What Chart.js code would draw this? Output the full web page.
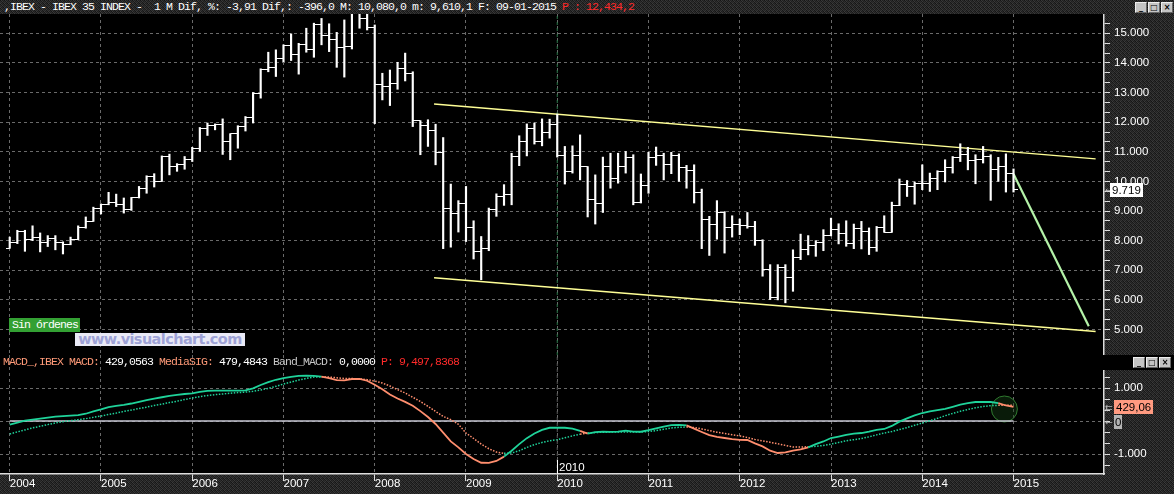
<!DOCTYPE html>
<html>
<head>
<meta charset="utf-8">
<script src="https://cdn.jsdelivr.net/npm/chart.js@4.4.1/dist/chart.umd.min.js"></script>
<style>
  html, body { margin: 0; padding: 0; background: #000; }
  #wrap { position: relative; width: 1174px; height: 494px; overflow: hidden; background: #000; }
  canvas { position: absolute; left: 0; }
  #priceChart { top: 14px; }
  #macdChart { top: 355px; }
  .txt { position: absolute; font-family: "Liberation Mono", monospace; font-size: 11.5px;
         letter-spacing: -0.9px; white-space: pre; color: #fff; line-height: 14px; }
  #titlebar { left: 0; top: 0; width: 1170px; height: 14px; padding-left: 4px; }
  #macdTitle { left: 3px; top: 355px; }
  .red { color: #ff2a2a; }
  .sal { color: #ff9a78; }
  .gry { color: #c8c8c8; }
  #sinOrdenes { left: 9px; top: 318px; width: 68px; height: 14px; padding-left: 3px; background: #33a033; }
  #watermark { position: absolute; left: 75px; top: 333px; width: 170px; height: 13px; background: #eaeaf7;
               font-family: "DejaVu Sans", sans-serif; font-weight: bold; font-size: 14.5px; line-height: 13px;
               color: #9ea2d6; text-align: center; letter-spacing: -0.6px; overflow: hidden; }
  .box { position: absolute; font-family: "Liberation Sans", sans-serif; font-size: 11.5px; line-height: 14px;
         color: #000; padding: 0 2px; }
  .arrow { position: absolute; font-family: "DejaVu Sans", sans-serif; font-size: 9px; color: #bbb; line-height: 12px; }
  .win { position: absolute; display: flex; gap: 1px; }
  .win span { display: block; width: 10px; height: 9px; background: #c4c4c4; border: 1px solid #eee;
              border-right-color: #666; border-bottom-color: #666; font: bold 8px "DejaVu Sans", sans-serif;
              line-height: 9px; text-align: center; color: #000; }
  #cursorLabel { position: absolute; left: 557px; top: 460px; height: 14px; border-left: 1px solid #fff;
                 padding-left: 1px; font-family: "Liberation Sans", sans-serif; font-size: 11.5px; line-height: 14px; color: #fff; }
</style>
</head>
<body>
<div id="wrap">
  <div id="titlebar" class="txt">,IBEX - IBEX 35 INDEX -  1 M Dif, %: -3,91 Dif,: -396,0 M: 10,080,0 m: 9,610,1 F: 09-01-2015 <span class="red">P : 12,434,2</span></div>
  <canvas id="priceChart" width="1174" height="341"></canvas>
  <canvas id="macdChart" width="1174" height="139"></canvas>
  <div id="macdTitle" class="txt"><span class="sal">MACD_,IBEX MACD:</span> 429,0563 <span class="sal">MediaSIG:</span> 479,4843 <span class="gry">Band_MACD:</span> 0,0000 <span class="red">P: 9,497,8368</span></div>
  <div id="sinOrdenes" class="txt">Sin órdenes</div>
  <div id="watermark">www.visualchart.com</div>
  <div class="arrow" style="left:1105px;top:184px">&#8592;</div>
  <div class="box" style="left:1110px;top:183px;background:#fff;">9.719</div>
  <div class="arrow" style="left:1105px;top:402px">&#8647;</div>
  <div class="box" style="left:1114px;top:400px;background:#ff9a80;">429,06</div>
  <div class="arrow" style="left:1105px;top:416px">&#8592;</div>
  <div class="box" style="left:1114px;top:415px;background:#b4b4b4;padding:0 1px;">0</div>
  <div class="win" style="left:1135px;top:2px"><span>_</span><span>&#9633;</span><span>&#215;</span></div>
  <div class="win" style="left:1133px;top:357px"><span>_</span><span>&#9633;</span><span>&#215;</span></div>
  <div id="cursorLabel">2010</div>
</div>
<script>
// monthly bars, Jan 2004 (index 0) .. Jan 2015 (index 132)
const yearLabels = ["2004", "2005", "2006", "2007", "2008", "2009", "2010", "2011", "2012", "2013", "2014", "2015"];

const openPx = [
  7740, 7940, 8300, 8030, 8090, 7940, 8060, 7950, 7860, 8030, 8450, 8650,
  9100, 9230, 9300, 9230, 9040, 9440, 9770, 10170, 10000, 10840, 10500, 10560,
  10750, 11120, 11800, 11880, 11910, 11350, 11600, 11850, 12170, 12950, 13760, 13840,
  14160, 14570, 14270, 14630, 14440, 15310, 14910, 14800, 14530, 14550, 15900, 15500,
  15180, 13260, 13200, 13310, 13820, 13650, 12050, 11900, 11710, 10990, 9100, 8900,
  9270, 8460, 7640, 7750, 9065, 9490, 9550, 10840, 11350, 11770, 11350, 11660,
  11930, 10860, 10340, 10860, 10500, 9380, 9270, 10500, 10090, 10510, 10810, 9290,
  9860, 10810, 10870, 10580, 10880, 10480, 10360, 9630, 8720, 8550, 8950, 8450,
  8560, 8510, 8470, 8010, 7010, 6090, 7100, 6740, 7420, 7710, 7840, 7930,
  8170, 8360, 8230, 7920, 8420, 8320, 7760, 8430, 8290, 9190, 9910, 9840,
  9920, 9920, 10110, 10340, 10460, 10800, 10920, 10710, 10730, 10830, 10400, 10490,
  10280
];
const highPx = [
  8120, 8350, 8350, 8500, 8260, 8170, 8170, 7960, 8120, 8500, 8800, 9130,
  9240, 9630, 9570, 9440, 9460, 9830, 10190, 10260, 10860, 10920, 10600, 10840,
  11150, 11820, 11970, 11940, 12110, 11610, 11880, 12190, 13000, 13800, 14360, 14440,
  14610, 14980, 14660, 15170, 15340, 15500, 15320, 15030, 15450, 16000, 16040, 15800,
  15280, 13650, 13760, 14020, 14330, 13700, 12050, 12080, 11930, 11480, 9910, 9350,
  9830, 8670, 8140, 9100, 9580, 9890, 10950, 11540, 11940, 11970, 12110, 12100,
  12270, 11180, 11200, 11570, 10500, 10220, 10820, 10950, 10950, 11010, 10900, 10250,
  10980, 11160, 10950, 10980, 10930, 10540, 10560, 9740, 8820, 9350, 8980, 8840,
  8730, 8950, 8650, 8030, 7190, 7190, 7190, 7690, 8220, 8170, 8000, 8370,
  8760, 8570, 8670, 8560, 8650, 8430, 8480, 8840, 9300, 10080, 10030, 9980,
  10560, 10280, 10360, 10730, 10840, 11270, 11150, 10900, 11180, 10900, 10810, 10930,
  10420
];
const lowPx = [
  7740, 7900, 7640, 8000, 7620, 7800, 7690, 7550, 7860, 8030, 8420, 8650,
  8900, 9210, 9150, 8930, 9020, 9440, 9600, 9810, 10000, 10220, 10340, 10410,
  10670, 11010, 11550, 11740, 10910, 10730, 11120, 11700, 11970, 12810, 13700, 13540,
  14040, 14080, 13620, 14360, 14190, 14610, 14380, 13850, 13520, 14470, 15170, 15110,
  11950, 12750, 12560, 13110, 13390, 11850, 10900, 11180, 10560, 7730, 7780, 8290,
  7970, 7380, 6680, 7660, 8820, 9190, 9210, 10530, 10860, 11260, 11200, 11460,
  10820, 9910, 10280, 10050, 8800, 8560, 8950, 9770, 9940, 10280, 9210, 9270,
  9600, 10540, 10050, 10260, 10000, 9770, 9270, 7730, 7500, 8050, 7580, 8120,
  8200, 8420, 7840, 6800, 6010, 6000, 5900, 6290, 7360, 7520, 7470, 7660,
  8160, 7890, 7810, 7730, 7720, 7530, 7640, 8280, 8280, 9180, 9490, 9230,
  9720, 9660, 9720, 9980, 10280, 10670, 10390, 9920, 10620, 9360, 10000, 9640,
  9640
];
const closePx = [
  7940, 8300, 8030, 8090, 7940, 8060, 7950, 7860, 8030, 8450, 8650, 9100,
  9230, 9300, 9230, 9040, 9440, 9770, 10170, 10000, 10840, 10500, 10560, 10750,
  11120, 11800, 11880, 11910, 11350, 11600, 11850, 12170, 12950, 13760, 13840, 14160,
  14570, 14270, 14630, 14440, 15310, 14910, 14800, 14530, 14550, 15900, 15500, 15180,
  13260, 13200, 13310, 13820, 13650, 12050, 11900, 11710, 10990, 9100, 8900, 9270,
  8460, 7640, 7750, 9065, 9490, 9550, 10840, 11350, 11770, 11350, 11660, 11930,
  10860, 10340, 10860, 10500, 9380, 9270, 10500, 10090, 10510, 10810, 9290, 9860,
  10810, 10870, 10580, 10880, 10480, 10360, 9630, 8720, 8550, 8950, 8450, 8560,
  8510, 8470, 8010, 7010, 6090, 7100, 6740, 7420, 7710, 7840, 7930, 8170,
  8360, 8230, 7920, 8420, 8320, 7760, 8430, 8290, 9190, 9910, 9840, 9920,
  9920, 10110, 10340, 10460, 10800, 10920, 10710, 10730, 10830, 10400, 10490, 10280,
  9720
];

const macdVals = [
  -110, -50, 10, 40, 70, 100, 130, 145, 160, 175, 220, 290,
  350, 420, 460, 490, 530, 580, 630, 680, 720, 760, 790, 818,
  840, 880, 915, 920, 920, 918, 918, 925, 990, 1090, 1180, 1250,
  1300, 1340, 1370, 1374, 1370, 1345, 1300, 1240, 1232, 1273, 1273, 1220,
  1100, 960, 800, 680, 580, 460, 300, 120, -90, -350, -616, -800,
  -1000, -1150, -1265, -1270, -1210, -1080, -900, -700, -520, -380, -270, -205,
  -200, -205, -230, -300, -380, -340, -320, -330, -320, -293, -320, -325,
  -280, -220, -170, -125, -120, -135, -230, -333, -430, -480, -515, -550,
  -570, -576, -680, -768, -900, -970, -950, -900, -860, -798, -700, -620,
  -515, -470, -420, -380, -364, -320, -270, -242, -150, -20, 80, 170,
  242, 290, 330, 370, 430, 495, 540, 576, 580, 576, 540, 470,
  429
];
const signalVals = [
  -394, -330, -270, -210, -160, -110, -60, -20, 10, 40, 70, 110,
  150, 200, 240, 290, 330, 380, 420, 470, 510, 560, 600, 650,
  697, 740, 770, 800, 820, 840, 860, 875, 900, 940, 990, 1050,
  1121, 1180, 1240, 1290, 1330, 1340, 1330, 1310, 1290, 1285, 1280, 1252,
  1210, 1151, 1060, 950, 850, 720, 590, 444, 290, 140, 40, -100,
  -364, -530, -700, -840, -940, -980, -970, -900, -800, -717, -650, -600,
  -566, -510, -450, -400, -364, -350, -340, -335, -333, -333, -333, -333,
  -320, -290, -250, -210, -192, -182, -200, -240, -290, -340, -380, -414,
  -450, -500, -560, -600, -646, -690, -740, -788, -790, -780, -768, -740,
  -700, -650, -600, -566, -530, -480, -420, -364, -320, -260, -200, -130,
  -61, 10, 80, 160, 230, 293, 350, 400, 440, 465, 475, 480,
  479
];
const bandMacd = 0;

// drawn lines on the price panel (month index, price)
const channelUpper = [[55.8, 12610], [142.8, 10760]];
const channelLower = [[55.8, 6750], [142.8, 4935]];
const projection = [[132, 10250], [141.9, 5110]];
const cursorMonth = 72;
const macdMarker = [130.8, 364];

const priceTicks = [5000, 6000, 7000, 8000, 9000, 10000, 11000, 12000, 13000, 14000, 15000];
const priceTickLabels = ["5.000", "6.000", "7.000", "8.000", "9.000", "10.000", "11.000", "12.000", "13.000", "14.000", "15.000"];
const macdTicks = [-1000, 0, 1000];
const macdTickLabels = ["-1.000", "", "1.000"];

// visible ranges
const xMin = -1.28, xMax = 143.9;
const priceMin = 4140, priceMax = 15650;
const macdMin = -1606, macdMax = 2000;

const GRID = "#6a6a6a";
const GREEN = "#1fd39a";
const SALMON = "#ff8e6e";
const tickFont = { family: "Liberation Sans", size: 11.5 };

// dithered dark background like the original terminal
function makeNoise() {
  const c = document.createElement("canvas");
  c.width = 4; c.height = 4;
  const g = c.getContext("2d");
  const shades = [
    "#161616", "#383838", "#202020", "#2e2e2e",
    "#2c2c2c", "#1a1a1a", "#3a3a3a", "#1e1e1e",
    "#242424", "#363636", "#181818", "#323232",
    "#3c3c3c", "#1c1c1c", "#2a2a2a", "#141414"
  ];
  shades.forEach((s, i) => { g.fillStyle = s; g.fillRect(i % 4, Math.floor(i / 4), 1, 1); });
  return c;
}
const noise = makeNoise();
document.getElementById("titlebar").style.background = "url(" + noise.toDataURL() + ")";

function tickMark(side) {
  const c = document.createElement("canvas");
  c.width = 8; c.height = 1;
  const g = c.getContext("2d");
  g.fillStyle = "#fff";
  g.fillRect(side === "left" ? 0 : 4, 0, 4, 1);
  return c;
}
const openTick = tickMark("left");
const closeTick = tickMark("right");

const panelBg = {
  id: "panelBg",
  beforeDraw(chart) {
    const { ctx, chartArea: a, width, height } = chart;
    ctx.save();
    ctx.fillStyle = ctx.createPattern(noise, "repeat");
    ctx.fillRect(0, 0, width, height);
    ctx.fillStyle = "#000";
    ctx.fillRect(a.left, a.top, a.right - a.left, a.bottom - a.top);
    ctx.restore();
  },
  afterDraw(chart, args, opts) {
    // black header strip above the indicator's price axis
    if (!opts.headerRow) return;
    const { ctx, chartArea: a, width } = chart;
    ctx.save();
    ctx.fillStyle = "#000";
    ctx.fillRect(a.right - 1, 0, width - a.right + 1, opts.headerRow);
    ctx.restore();
  }
};

function thirds(majors) {
  const out = [];
  majors.forEach((v, i) => {
    out.push(v);
    if (i < majors.length - 1) {
      const step = (majors[i + 1] - v) / 3;
      out.push(v + step, v + 2 * step);
    }
  });
  out.unshift(majors[0] - (majors[1] - majors[0]) / 3);
  out.push(majors[majors.length - 1] + (majors[1] - majors[0]) / 3);
  return out;
}

// axes must fill the canvas exactly, no label overflow padding
function noPad(s) {
  s.paddingLeft = 0; s.paddingRight = 0; s.paddingTop = 0; s.paddingBottom = 0;
}

const months = closePx.map((_, i) => i);
const yearTicks = yearLabels.map((_, i) => i * 12);
const toPts = arr => arr.map(p => ({ x: p[0], y: p[1] }));

function xAxis(showLabels) {
  return {
    type: "linear",
    min: xMin,
    max: xMax,
    offset: false,
    afterBuildTicks: s => { s.ticks = yearTicks.map(v => ({ value: v })); },
    ticks: {
      display: showLabels,
      color: "#fff",
      font: tickFont,
      align: "start",
      padding: -4,
      maxRotation: 0,
      autoSkip: false,
      callback: (v) => yearLabels[yearTicks.indexOf(v)]
    },
    grid: { color: GRID, offset: false, drawTicks: showLabels, tickLength: 7, tickColor: "#ddd", tickBorderDash: [] },
    border: { display: showLabels, color: "#ddd", width: 1.5, dash: [3, 3] },
    afterFit: s => { s.height = showLabels ? 20 : 0; noPad(s); }
  };
}

function yAxis(min, max, majors, labels) {
  return {
    position: "right",
    min: min,
    max: max,
    afterBuildTicks: s => { s.ticks = thirds(majors).filter(v => v > min && v < max).map(v => ({ value: v })); },
    ticks: {
      color: "#fff",
      font: tickFont,
      padding: 4,
      autoSkip: false,
      callback: (v) => { const i = majors.indexOf(v); return i >= 0 ? labels[i] : ""; }
    },
    grid: {
      color: c => majors.includes(c.tick.value) ? GRID : "rgba(0,0,0,0)",
      tickColor: "#ddd",
      tickLength: 6,
      tickBorderDash: []
    },
    border: { color: "#ddd", width: 1.5, dash: [3, 3] },
    afterFit: s => { s.width = 70; noPad(s); }
  };
}

new Chart(document.getElementById("priceChart"), {
  type: "bar",
  data: {
    datasets: [
      {
        type: "bar",
        data: months.map(i => ({ x: i, y: [lowPx[i], highPx[i]] })),
        backgroundColor: "#fff",
        barThickness: 1.5,
        grouped: false
      },
      {
        type: "scatter",
        data: months.map(i => ({ x: i, y: openPx[i] })),
        pointStyle: openTick,
        pointRadius: 4
      },
      {
        type: "scatter",
        data: months.map(i => ({ x: i, y: closePx[i] })),
        pointStyle: closeTick,
        pointRadius: 4
      },
      {
        type: "line",
        data: toPts(channelUpper),
        borderColor: "#ffff96",
        borderWidth: 1.5,
        pointRadius: 0
      },
      {
        type: "line",
        data: toPts(channelLower),
        borderColor: "#ffff96",
        borderWidth: 1.5,
        pointRadius: 0
      },
      {
        type: "line",
        data: toPts(projection),
        borderColor: "#b4f2a8",
        borderWidth: 2.2,
        pointRadius: 0
      },
      {
        type: "line",
        data: [{ x: cursorMonth, y: priceMin }, { x: cursorMonth, y: priceMax }],
        borderColor: "#2e7a4c",
        borderWidth: 1,
        borderDash: [3, 3],
        pointRadius: 0
      }
    ]
  },
  options: {
    responsive: false,
    animation: false,
    events: [],
    layout: { padding: 0, autoPadding: false },
    plugins: { legend: { display: false }, tooltip: { enabled: false }, panelBg: {} },
    scales: {
      x: xAxis(false),
      y: yAxis(priceMin, priceMax, priceTicks, priceTickLabels)
    }
  },
  plugins: [panelBg]
});

const macdColor = c => macdVals[c.p1DataIndex] >= signalVals[c.p1DataIndex] ? GREEN : SALMON;

new Chart(document.getElementById("macdChart"), {
  type: "line",
  data: {
    datasets: [
      {
        data: months.map(i => ({ x: i, y: macdVals[i] })),
        borderWidth: 1.8,
        pointRadius: 0,
        segment: { borderColor: macdColor }
      },
      {
        data: months.map(i => ({ x: i, y: signalVals[i] })),
        borderWidth: 1.5,
        borderDash: [1.5, 1.5],
        pointRadius: 0,
        segment: { borderColor: macdColor }
      },
      {
        data: [{ x: 0, y: bandMacd }, { x: months.length - 1, y: bandMacd }],
        borderColor: "#c8c8d4",
        borderWidth: 1.5,
        pointRadius: 0
      },
      {
        data: [{ x: cursorMonth, y: macdMin }, { x: cursorMonth, y: macdMax }],
        borderColor: "#5a5a5a",
        borderWidth: 1,
        borderDash: [3, 3],
        pointRadius: 0
      },
      {
        type: "scatter",
        data: [{ x: macdMarker[0], y: macdMarker[1] }],
        pointStyle: "circle",
        pointRadius: 13,
        borderColor: "#2f7a2f",
        borderWidth: 1,
        backgroundColor: "rgba(20,60,20,0.45)"
      }
    ]
  },
  options: {
    responsive: false,
    animation: false,
    events: [],
    layout: { padding: 0, autoPadding: false },
    plugins: { legend: { display: false }, tooltip: { enabled: false }, panelBg: { headerRow: 15 } },
    scales: {
      x: xAxis(true),
      y: yAxis(macdMin, macdMax, macdTicks, macdTickLabels)
    }
  },
  plugins: [panelBg]
});
</script>
</body>
</html>
